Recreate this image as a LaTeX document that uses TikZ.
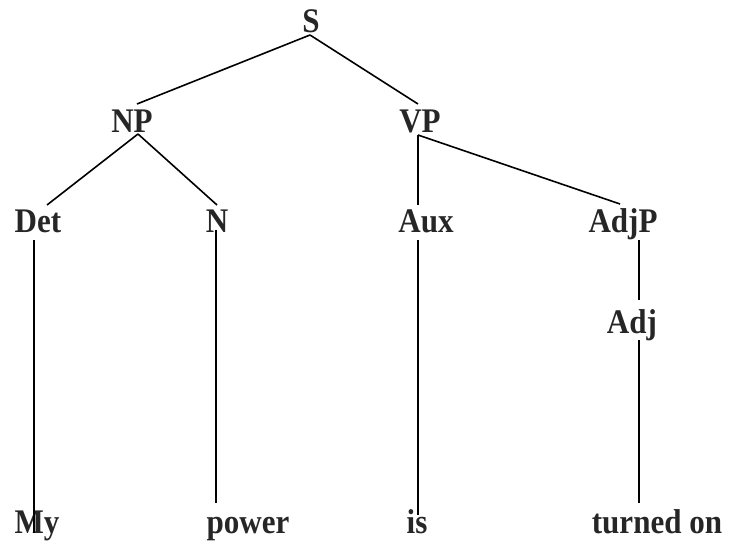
\documentclass[tikz,border=0pt]{standalone}
\usepackage{fontspec}
\setmainfont{Liberation Serif}
\newcommand{\cond}[1]{\scalebox{0.9}[1]{#1}}
\begin{document}
\begin{tikzpicture}[x=1pt,y=-1pt,
  lbl/.style={anchor=base,inner sep=0pt,font=\fontsize{34.5}{40}\selectfont\bfseries,text=black!85},
  edge/.style={line width=1.6pt,black}]
\useasboundingbox (0,0) rectangle (730,545);
\node[lbl] (S) at (311,33) {\cond{S}};
\node[lbl] (NP) at (132,133) {\cond{NP}};
\node[lbl] (VP) at (420,133) {\cond{VP}};
\node[lbl] (Det) at (38,233) {\cond{Det}};
\node[lbl] (N) at (217,233) {\cond{N}};
\node[lbl] (Aux) at (426,233) {\cond{Aux}};
\node[lbl] (AdjP) at (623,233) {\cond{AdjP}};
\node[lbl] (Adj) at (632,333) {\cond{Adj}};
\node[lbl] (My) at (37,533) {\cond{My}};
\node[lbl] (power) at (248,533) {\cond{power}};
\node[lbl] (is) at (417,533) {\cond{is}};
\node[lbl] (turned) at (657,533) {\cond{turned on}};
\draw[edge] ([shift={(-1,2)}]S.base) -- ([shift={(5,-29)}]NP.base);
\draw[edge] ([shift={(-1,2)}]S.base) -- ([shift={(-2,-29)}]VP.base);
\draw[edge] ([shift={(6,1)}]NP.base) -- ([shift={(9,-28)}]Det.base);
\draw[edge] ([shift={(6,1)}]NP.base) -- ([shift={(0,-28)}]N.base);
\draw[edge] ([shift={(-2,2)}]VP.base) -- ([shift={(-8,-28)}]Aux.base);
\draw[edge] ([shift={(-2,2)}]VP.base) -- ([shift={(-3,-29)}]AdjP.base);
\draw[edge] ([shift={(-4,7)}]Det.base) -- ([shift={(-3,0)}]My.base);
\draw[edge] ([shift={(-1,-3)}]N.base) -- ([shift={(-32,-30)}]power.base);
\draw[edge] ([shift={(-8,7)}]Aux.base) -- ([shift={(1,-18)}]is.base);
\draw[edge] ([shift={(16,7)}]AdjP.base) -- ([shift={(7,-33)}]Adj.base);
\draw[edge] ([shift={(7,7)}]Adj.base) -- ([shift={(-18,-30)}]turned.base);
\end{tikzpicture}
\end{document}
